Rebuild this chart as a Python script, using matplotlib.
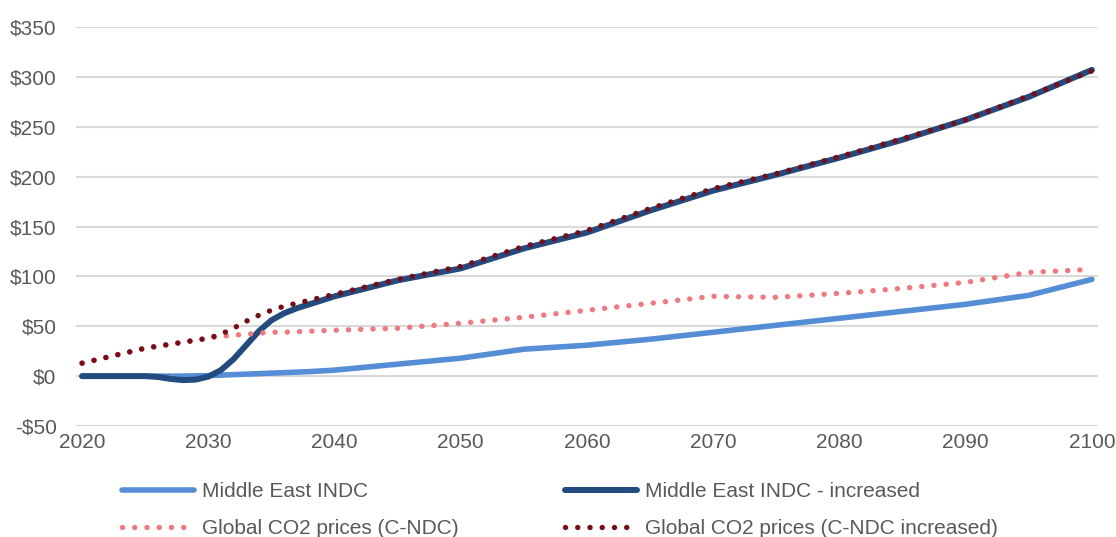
import matplotlib
matplotlib.use("Agg")
import matplotlib.pyplot as plt
from matplotlib.ticker import FuncFormatter, MultipleLocator

plt.rcParams['font.family'] = ['Liberation Sans', 'DejaVu Sans']

years = [2020, 2022, 2024, 2025, 2026, 2027, 2028, 2029, 2030, 2031, 2032, 2033,
         2034, 2035, 2036, 2037, 2038, 2040, 2045, 2050, 2055, 2060, 2065, 2070,
         2075, 2080, 2085, 2090, 2095, 2100]

me_indc = [0, 0, 0, 0, 0, 0, 0, 0.3, 0.5, 1, 1.5, 2,
           2.5, 3, 3.5, 4, 4.5, 6, 12, 18, 27, 31, 37, 44,
           51, 58, 65, 72, 81, 97]

me_indc_inc = [0, 0, 0, 0, -0.8, -2.8, -4, -3.5, -0.5, 6, 17, 31,
               45, 56, 63, 68, 72, 80, 96, 108, 128, 144, 166, 186,
               202, 219, 237, 257, 280, 307]

global_cndc = [13, 19, 25, 28, 30, 32, 34, 36, 38, 40, 41, 42,
               43, 44, 44, 44.5, 45, 46, 48, 53, 59, 66, 73, 80,
               79, 83, 88, 94, 104, 107]

global_cndc_inc = [13, 19, 25, 28, 30, 32, 34, 36, 38, 42, 48, 55,
                   61, 66, 70, 73, 76, 82, 97, 110, 130, 146, 168, 188,
                   203, 220, 238, 257, 281, 306]

labels = ["Middle East INDC", "Middle East INDC - increased",
          "Global CO2 prices (C-NDC)", "Global CO2 prices (C-NDC increased)"]

fig = plt.figure(figsize=(11.16, 5.37), dpi=100)
ax = fig.add_axes([76 / 1116, 1 - 426 / 537, 1022 / 1116, 399 / 537])

dot = (0, (0.01, 2.25))
l1, = ax.plot(years, me_indc, color='#558ED5', lw=4.0, solid_capstyle='round',
              solid_joinstyle='round', label=labels[0])
l2, = ax.plot(years, me_indc_inc, color='#234B7F', lw=4.3, solid_capstyle='round',
              solid_joinstyle='round', label=labels[1])
l3, = ax.plot(years, global_cndc, color='#F4777F', lw=3.9, linestyle=dot,
              dash_capstyle='round', label=labels[2])
l4, = ax.plot(years, global_cndc_inc, color='#7A0C16', lw=3.9, linestyle=dot,
              dash_capstyle='round', label=labels[3])

ax.set_xlim(2019.52, 2100.48)
ax.set_ylim(-50, 350)
ax.set_xticks(range(2020, 2101, 10))
ax.yaxis.set_major_locator(MultipleLocator(50))
ax.yaxis.set_major_formatter(FuncFormatter(
    lambda v, p: f"-${abs(int(v))}" if v < 0 else f"${int(v)}"))

ax.grid(axis='y', color='#D9D9D9', lw=1.5)
ax.set_axisbelow(True)
for s in ax.spines.values():
    s.set_visible(False)
ax.tick_params(axis='both', length=0, labelsize=15, labelcolor='#595959')
ax.tick_params(axis='y', pad=14)
ax.tick_params(axis='x', pad=5)

fig.legend([l1, l3, l2, l4], [labels[0], labels[2], labels[1], labels[3]],
           ncol=2, loc='upper left', bbox_to_anchor=(122 / 1116, 1 - 482 / 537),
           frameon=False, fontsize=15, labelcolor='#595959',
           handlelength=3.45, handletextpad=0.4, columnspacing=5.1,
           labelspacing=0.88, borderpad=0, borderaxespad=0)

fig.savefig("out.png", dpi=100)
